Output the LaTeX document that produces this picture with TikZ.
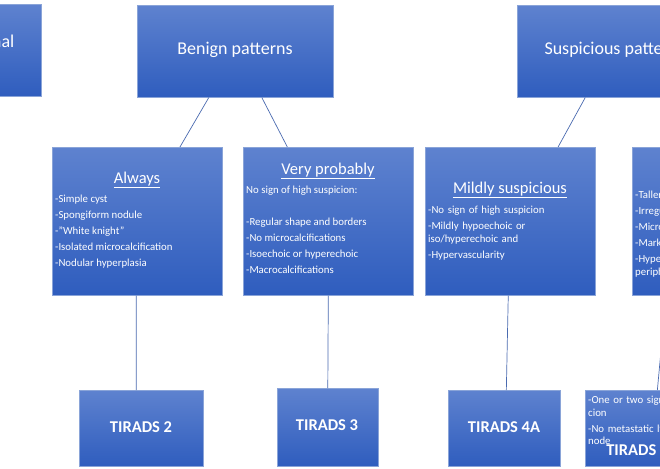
\documentclass[tikz,border=0pt]{standalone}
\usepackage{fontspec}
\setmainfont{Carlito}
\usetikzlibrary{calc}
\newcommand\myul[1]{\underline{#1}}
\definecolor{btop}{HTML}{5E82CF}
\definecolor{bbot}{HTML}{2F5DBE}
\definecolor{bedge}{HTML}{8AA4D8}
\definecolor{lnk}{HTML}{4A6BB0}
\begin{document}
\begin{tikzpicture}[x=1pt,y=-1pt,
  box/.style={draw=bedge,line width=0.6pt,top color=btop,bottom color=bbot,anchor=north west,inner sep=0pt},
  ttl/.style={text=white,font=\fontsize{18}{21}\selectfont},
  sub/.style={text=white,font=\fontsize{16.5}{19}\selectfont},
  body/.style={text=white,font=\fontsize{10.8}{12.5}\selectfont,align=left,anchor=north west,inner sep=0pt},
  tir/.style={text=white,font=\bfseries\fontsize{16.5}{19}\selectfont},
  lk/.style={draw=lnk,line width=0.7pt}]
\useasboundingbox (0,0) rectangle (660,468);
\clip (0,0) rectangle (660,468);
\fill[white] (0,0) rectangle (660,468);
% top row
\node[box,minimum width=120pt,minimum height=92pt] (normal) at (-79,4) {};
\node[ttl] (normalt) at (-13,41) {Normal};
\node[box,minimum width=196pt,minimum height=92pt] (benign) at (137,5) {};
\node[ttl] (benignt) at (235,50) {Benign patterns};
\node[box,minimum width=196pt,minimum height=92pt] (susp) at (517,5) {};
\node[ttl] (suspt) at (615,50) {Suspicious patterns};
% middle row
\node[box,minimum width=170pt,minimum height=148pt] (always) at (52,147) {};
\node[sub] (alwayst) at (137,180) {\myul{Always}};
\node[body] (alwaysb) at (55,195) {-Simple cyst\\[3.5pt]-Spongiform nodule\\[3.5pt]-”White knight”\\[3.5pt]-Isolated microcalcification\\[3.5pt]-Nodular hyperplasia};
\node[box,minimum width=170pt,minimum height=148pt] (vp) at (243,147) {};
\node[sub] (vpt) at (328,171) {\myul{Very probably}};
\node[body] (vpb) at (246,186) {No sign of high suspicion:\\[3.5pt]\\[3.5pt]-Regular shape and borders\\[3.5pt]-No microcalcifications\\[3.5pt]-Isoechoic or hyperechoic\\[3.5pt]-Macrocalcifications};
\node[box,minimum width=170pt,minimum height=148pt] (mild) at (425,147) {};
\node[sub] (mildt) at (510,190) {\myul{Mildly suspicious}};
\node[body,text width=120pt] (mildb) at (428,206) {-No sign of high suspicion\\[3.5pt]-Mildly hypoechoic or\\iso/hyperechoic and\\[3.5pt]-Hypervascularity};
\node[box,minimum width=170pt,minimum height=148pt] (high) at (632,147) {};
\node[sub] (hight) at (717,180) {\myul{Highly suspicious}};
\node[body,text width=130pt] (highb) at (635,191) {-Taller than wide\\[3.5pt]-Irregular margins\\[3.5pt]-Microcalcifications\\[3.5pt]-Marked hypoechogenicity\\[3.5pt]-Hypervascularity,\\peripheral};
% bottom row
\node[box,minimum width=124pt,minimum height=76pt] (t2) at (79,390) {};
\node[tir] (t2t) at (141,427) {TIRADS 2};
\node[box,minimum width=101pt,minimum height=78pt] (t3) at (277,388) {};
\node[tir] (t3t) at (327,425) {TIRADS 3};
\node[box,minimum width=112pt,minimum height=76pt] (t4a) at (448,390) {};
\node[tir] (t4at) at (504,427) {TIRADS 4A};
\node[box,minimum width=120pt,minimum height=76pt] (t4b) at (585,390) {};
\node[body,text width=150pt] (t4bb) at (588,396) {-One or two signs of high suspicion\\[3.5pt]-No metastatic lymph\\node};
\node[tir] (t4bt) at (642,450) {TIRADS 4B};
% links
\draw[lk] ($(benign.south west)!0.365!(benign.south east)$) -- ($(always.north west)!0.75!(always.north east)$);
\draw[lk] ($(benign.south west)!0.635!(benign.south east)$) -- ($(vp.north west)!0.26!(vp.north east)$);
\draw[lk] ($(susp.south west)!0.347!(susp.south east)$) -- ($(mild.north west)!0.78!(mild.north east)$);
\draw[lk] ($(always.south west)!0.494!(always.south east)$) -- ($(t2.north west)!0.46!(t2.north east)$);
\draw[lk] ($(vp.south west)!0.5!(vp.south east)$) -- ($(t3.north west)!0.5!(t3.north east)$);
\draw[lk] ($(mild.south west)!0.488!(mild.south east)$) -- ($(t4a.north west)!0.518!(t4a.north east)$);
\draw[lk] ($(high.south west)!0.2!(high.south east)$) -- ($(t4b.north west)!0.6!(t4b.north east)$);
\end{tikzpicture}
\end{document}
